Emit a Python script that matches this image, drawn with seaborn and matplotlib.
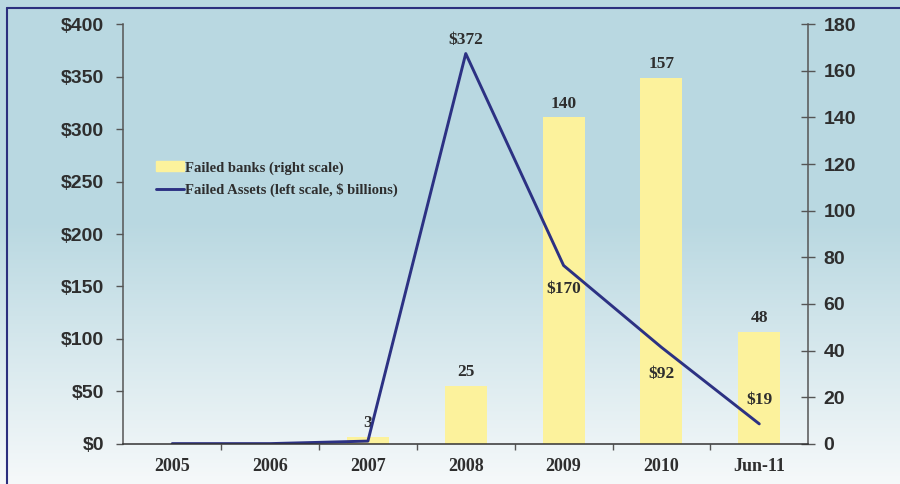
import numpy as np
import pandas as pd
import seaborn as sns
import matplotlib.pyplot as plt
from matplotlib.lines import Line2D
from matplotlib.patches import Patch
from matplotlib.ticker import FuncFormatter, MultipleLocator, FixedLocator

years = ["2005", "2006", "2007", "2008", "2009", "2010", "Jun-11"]
failed_banks = [0, 0, 3, 25, 140, 157, 48]
failed_assets = [0.2, 0.2, 2.6, 372, 170, 92, 19]
asset_labels = ["", "", "", "$372", "$170", "$92", "$19"]

df = pd.DataFrame({"year": years, "banks": failed_banks, "assets": failed_assets})
df["pos"] = np.arange(len(df))

sns.set_theme(style="white")
plt.rcParams["font.family"] = ["Liberation Sans", "DejaVu Sans"]

bar_col = "#fcf29c"
line_col = "#2c3183"
txt_col = "#2e2e2e"
serif = "Liberation Serif"

fig = plt.figure(figsize=(9, 4.84), dpi=100)

# background gradient (light blue to near white)
bg = fig.add_axes([0, 0, 1, 1], zorder=-10)
top = np.array([185, 216, 225]) / 255
bot = np.array([246, 249, 250]) / 255
rows = np.arange(484)
t = np.clip((rows - 220) / (484 - 220), 0, 1)[:, None]
grad = (top * (1 - t) + bot * t)[:, None, :]
bg.imshow(grad, aspect="auto", extent=[0, 1, 0, 1])
bg.axis("off")

ax = fig.add_axes([0.137, 0.083, 0.761, 0.867])
ax2 = ax.twinx()

# bars on the right scale
sns.barplot(data=df, x="year", y="banks", ax=ax2, color=bar_col,
            width=0.43, saturation=1, edgecolor="none", linewidth=0)
ax2.set_ylim(0, 180)
ax2.set_xlabel("")
ax2.set_ylabel("")
for i, v in enumerate(failed_banks):
    if v > 0:
        ax2.annotate(str(v), (i, v), xytext=(0, 10), textcoords="offset points",
                     ha="center", va="center", fontsize=12.5, family=serif,
                     weight="bold", color=txt_col)

# line on the left scale, drawn above bars
ax.set_zorder(ax2.get_zorder() + 1)
ax.patch.set_visible(False)
sns.lineplot(data=df, x="pos", y="assets", ax=ax, color=line_col, lw=2.1,
             sort=False)
ax.set_ylim(0, 400)
ax.set_xlim(-0.5, len(years) - 0.5)
ax.set_xlabel("")
ax.set_ylabel("")
offsets = [0, 0, 0, 10, -17, -19, 17]
for i, (v, lab) in enumerate(zip(failed_assets, asset_labels)):
    if lab:
        ax.annotate(lab, (i, v), xytext=(0, offsets[i]), textcoords="offset points",
                    ha="center", va="center", fontsize=12.5, family=serif,
                    weight="bold", color=txt_col)

# axes styling
ax.yaxis.set_major_locator(MultipleLocator(50))
ax.yaxis.set_major_formatter(FuncFormatter(lambda v, p: f"${v:.0f}"))
ax2.yaxis.set_major_locator(MultipleLocator(20))
ax.xaxis.set_major_locator(FixedLocator(range(len(years))))
ax.set_xticklabels(years)
ax.xaxis.set_minor_locator(FixedLocator(np.arange(0.5, len(years) - 1, 1)))

ax.tick_params(axis="y", left=True, direction="out", length=5, width=1,
               color="#555555", labelsize=14, labelcolor=txt_col, pad=9)
for lab in ax.get_yticklabels():
    lab.set_fontweight("bold")
ax2.tick_params(axis="y", right=True, direction="inout", length=10, width=1,
                color="#555555", labelsize=14, labelcolor=txt_col, pad=6)
for lab in ax2.get_yticklabels():
    lab.set_fontweight("bold")
ax.tick_params(axis="x", which="major", bottom=False, length=0, pad=10,
               labelcolor=txt_col)
ax.tick_params(axis="x", which="minor", bottom=True, direction="out",
               length=4, width=1, color="#555555")
for lab in ax.get_xticklabels():
    lab.set_fontfamily(serif)
    lab.set_fontweight("bold")
    lab.set_fontsize(13)

for a in (ax, ax2):
    a.spines["top"].set_visible(False)
ax.spines["right"].set_visible(False)
ax2.spines["left"].set_visible(False)
ax2.spines["bottom"].set_visible(False)
ax.spines["left"].set_color("#555555")
ax.spines["bottom"].set_color("#333333")
ax2.spines["right"].set_color("#555555")
for s in ("left", "bottom"):
    ax.spines[s].set_linewidth(1.1)
ax2.spines["right"].set_linewidth(1.1)

handles = [Patch(color=bar_col), Line2D([], [], color=line_col, lw=2.1)]
labels = ["Failed banks (right scale)", "Failed Assets (left scale, $ billions)"]
fig.legend(handles, labels, loc="upper left", bbox_to_anchor=(143 / 900, 1 - 148 / 484),
           frameon=False, handlelength=1.9, handletextpad=0.1, labelspacing=0.55,
           prop=dict(family=serif, weight="bold", size=10.5), labelcolor=txt_col)

# frame border (top and left edges)
fig.add_artist(Line2D([7 / 900, 1], [1 - 8 / 484] * 2, transform=fig.transFigure,
                      color="#2b2f7e", lw=1.5))
fig.add_artist(Line2D([7 / 900] * 2, [0, 1 - 8 / 484], transform=fig.transFigure,
                      color="#2b2f7e", lw=1.5))

fig.savefig("out.png", dpi=100)
